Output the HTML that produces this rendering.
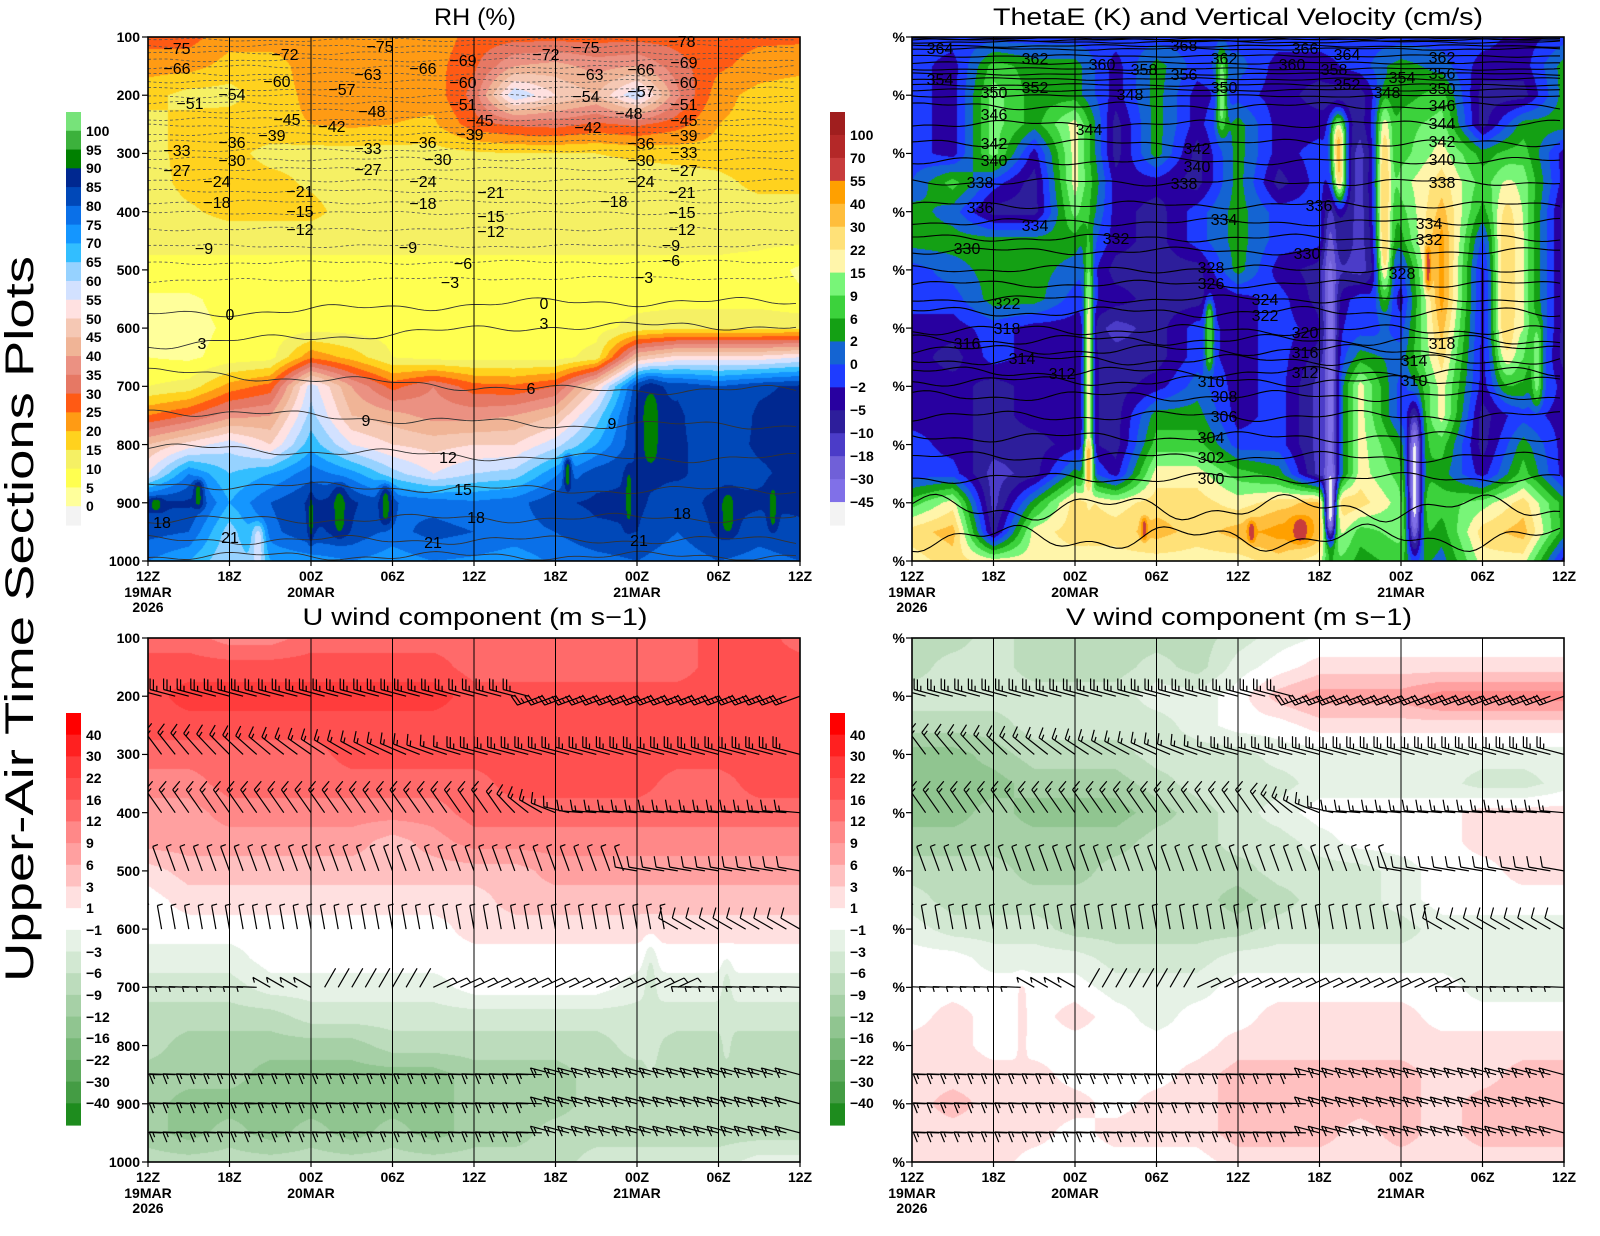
<!DOCTYPE html>
<html><head><meta charset="utf-8">
<style>
html,body{margin:0;padding:0;background:#fff;}
#wrap{position:relative;width:1600px;height:1236px;overflow:hidden;background:#fff;}
canvas{position:absolute;}
#s{position:absolute;left:0;top:0;}
.t{font-family:"Liberation Sans",sans-serif;fill:#000;}
.ax{font-family:"Liberation Sans",sans-serif;font-weight:bold;font-size:14px;fill:#000;}
.cl{font-family:"Liberation Sans",sans-serif;font-size:16px;fill:#000;}
</style></head><body><div id="wrap">
<canvas id="c1" width="652" height="524" style="left:148px;top:37px"></canvas>
<canvas id="c2" width="652" height="524" style="left:912px;top:37px"></canvas>
<canvas id="c3" width="652" height="524" style="left:148px;top:638px"></canvas>
<canvas id="c4" width="652" height="524" style="left:912px;top:638px"></canvas>
<svg id="s" width="1600" height="1236" viewBox="0 0 1600 1236" xmlns="http://www.w3.org/2000/svg">
<defs>
<clipPath id="cpU"><rect x="148" y="638" width="652" height="524"/></clipPath>
<clipPath id="cpV"><rect x="912" y="638" width="652" height="524"/></clipPath>
</defs>
<g id="lines"></g>
<!-- Titles -->
<text class="t" x="475" y="25" font-size="24" text-anchor="middle" textLength="82" lengthAdjust="spacingAndGlyphs">RH (%)</text>
<text class="t" x="1238" y="25" font-size="24" text-anchor="middle" textLength="490" lengthAdjust="spacingAndGlyphs">ThetaE (K) and Vertical Velocity (cm/s)</text>
<text class="t" x="475" y="625" font-size="24" text-anchor="middle" textLength="345" lengthAdjust="spacingAndGlyphs">U wind component (m s−1)</text>
<text class="t" x="1239" y="625" font-size="24" text-anchor="middle" textLength="346" lengthAdjust="spacingAndGlyphs">V wind component (m s−1)</text>
<text class="t" transform="translate(33,619) rotate(-90)" font-size="40" text-anchor="middle" textLength="726" lengthAdjust="spacingAndGlyphs">Upper-Air Time Sections Plots</text>

<!-- Y axis labels -->
<g class="ax" text-anchor="end">
<text x="140" y="42">100</text><text x="140" y="100">200</text><text x="140" y="158">300</text><text x="140" y="217">400</text><text x="140" y="275">500</text><text x="140" y="333">600</text><text x="140" y="391">700</text><text x="140" y="450">800</text><text x="140" y="508">900</text><text x="140" y="566">1000</text>
<text x="140" y="643">100</text><text x="140" y="701">200</text><text x="140" y="759">300</text><text x="140" y="818">400</text><text x="140" y="876">500</text><text x="140" y="934">600</text><text x="140" y="992">700</text><text x="140" y="1051">800</text><text x="140" y="1109">900</text><text x="140" y="1167">1000</text>
<text x="905" y="42">%</text><text x="905" y="100">%</text><text x="905" y="158">%</text><text x="905" y="217">%</text><text x="905" y="275">%</text><text x="905" y="333">%</text><text x="905" y="391">%</text><text x="905" y="450">%</text><text x="905" y="508">%</text><text x="905" y="566">%</text>
<text x="905" y="643">%</text><text x="905" y="701">%</text><text x="905" y="759">%</text><text x="905" y="818">%</text><text x="905" y="876">%</text><text x="905" y="934">%</text><text x="905" y="992">%</text><text x="905" y="1051">%</text><text x="905" y="1109">%</text><text x="905" y="1167">%</text>
</g>

<!-- Time labels -->
<g class="ax" text-anchor="middle">
<text x="148" y="581">12Z</text><text x="229.5" y="581">18Z</text><text x="311" y="581">00Z</text><text x="392.5" y="581">06Z</text><text x="474" y="581">12Z</text><text x="555.5" y="581">18Z</text><text x="637" y="581">00Z</text><text x="718.5" y="581">06Z</text><text x="800" y="581">12Z</text>
<text x="148" y="597">19MAR</text><text x="148" y="612">2026</text><text x="311" y="597">20MAR</text><text x="637" y="597">21MAR</text>
<text x="912" y="581">12Z</text><text x="993.5" y="581">18Z</text><text x="1075" y="581">00Z</text><text x="1156.5" y="581">06Z</text><text x="1238" y="581">12Z</text><text x="1319.5" y="581">18Z</text><text x="1401" y="581">00Z</text><text x="1482.5" y="581">06Z</text><text x="1564" y="581">12Z</text>
<text x="912" y="597">19MAR</text><text x="912" y="612">2026</text><text x="1075" y="597">20MAR</text><text x="1401" y="597">21MAR</text>
<text x="148" y="1182">12Z</text><text x="229.5" y="1182">18Z</text><text x="311" y="1182">00Z</text><text x="392.5" y="1182">06Z</text><text x="474" y="1182">12Z</text><text x="555.5" y="1182">18Z</text><text x="637" y="1182">00Z</text><text x="718.5" y="1182">06Z</text><text x="800" y="1182">12Z</text>
<text x="148" y="1198">19MAR</text><text x="148" y="1213">2026</text><text x="311" y="1198">20MAR</text><text x="637" y="1198">21MAR</text>
<text x="912" y="1182">12Z</text><text x="993.5" y="1182">18Z</text><text x="1075" y="1182">00Z</text><text x="1156.5" y="1182">06Z</text><text x="1238" y="1182">12Z</text><text x="1319.5" y="1182">18Z</text><text x="1401" y="1182">00Z</text><text x="1482.5" y="1182">06Z</text><text x="1564" y="1182">12Z</text>
<text x="912" y="1198">19MAR</text><text x="912" y="1213">2026</text><text x="1075" y="1198">20MAR</text><text x="1401" y="1198">21MAR</text>
</g>

<!-- Colorbar labels -->
<g class="ax">
<text x="86" y="136">100</text><text x="86" y="155">95</text><text x="86" y="173">90</text><text x="86" y="192">85</text><text x="86" y="211">80</text><text x="86" y="230">75</text><text x="86" y="248">70</text><text x="86" y="267">65</text><text x="86" y="286">60</text><text x="86" y="305">55</text><text x="86" y="324">50</text><text x="86" y="342">45</text><text x="86" y="361">40</text><text x="86" y="380">35</text><text x="86" y="399">30</text><text x="86" y="417">25</text><text x="86" y="436">20</text><text x="86" y="455">15</text><text x="86" y="474">10</text><text x="86" y="493">5</text><text x="86" y="511">0</text>
<text x="850" y="140">100</text><text x="850" y="163">70</text><text x="850" y="186">55</text><text x="850" y="209">40</text><text x="850" y="232">30</text><text x="850" y="255">22</text><text x="850" y="278">15</text><text x="850" y="301">9</text><text x="850" y="324">6</text><text x="850" y="346">2</text><text x="850" y="369">0</text><text x="850" y="392">−2</text><text x="850" y="415">−5</text><text x="850" y="438">−10</text><text x="850" y="461">−18</text><text x="850" y="484">−30</text><text x="850" y="507">−45</text>
<text x="86" y="740">40</text><text x="86" y="761">30</text><text x="86" y="783">22</text><text x="86" y="805">16</text><text x="86" y="826">12</text><text x="86" y="848">9</text><text x="86" y="870">6</text><text x="86" y="892">3</text><text x="86" y="913">1</text><text x="86" y="935">−1</text><text x="86" y="957">−3</text><text x="86" y="978">−6</text><text x="86" y="1000">−9</text><text x="86" y="1022">−12</text><text x="86" y="1043">−16</text><text x="86" y="1065">−22</text><text x="86" y="1087">−30</text><text x="86" y="1108">−40</text>
<text x="850" y="740">40</text><text x="850" y="761">30</text><text x="850" y="783">22</text><text x="850" y="805">16</text><text x="850" y="826">12</text><text x="850" y="848">9</text><text x="850" y="870">6</text><text x="850" y="892">3</text><text x="850" y="913">1</text><text x="850" y="935">−1</text><text x="850" y="957">−3</text><text x="850" y="978">−6</text><text x="850" y="1000">−9</text><text x="850" y="1022">−12</text><text x="850" y="1043">−16</text><text x="850" y="1065">−22</text><text x="850" y="1087">−30</text><text x="850" y="1108">−40</text>
</g>

<!-- RH contour labels -->
<g class="cl" text-anchor="middle">
<text x="177" y="54">−75</text><text x="285" y="60">−72</text><text x="380" y="52">−75</text><text x="463" y="66">−69</text><text x="546" y="60">−72</text><text x="586" y="53">−75</text><text x="682" y="47">−78</text><text x="684" y="68">−69</text>
<text x="177" y="74">−66</text><text x="277" y="87">−60</text><text x="368" y="80">−63</text><text x="423" y="74">−66</text><text x="463" y="88">−60</text><text x="590" y="80">−63</text><text x="641" y="75">−66</text><text x="684" y="88">−60</text>
<text x="190" y="109">−51</text><text x="232" y="100">−54</text><text x="342" y="95">−57</text><text x="372" y="117">−48</text><text x="463" y="110">−51</text><text x="586" y="102">−54</text><text x="641" y="97">−57</text><text x="629" y="119">−48</text><text x="684" y="110">−51</text>
<text x="287" y="125">−45</text><text x="332" y="132">−42</text><text x="272" y="141">−39</text><text x="480" y="126">−45</text><text x="470" y="140">−39</text><text x="588" y="133">−42</text><text x="684" y="126">−45</text><text x="684" y="141">−39</text>
<text x="232" y="148">−36</text><text x="177" y="156">−33</text><text x="232" y="166">−30</text><text x="177" y="176">−27</text><text x="368" y="154">−33</text><text x="368" y="175">−27</text><text x="423" y="148">−36</text><text x="438" y="165">−30</text><text x="641" y="149">−36</text><text x="641" y="166">−30</text><text x="684" y="158">−33</text><text x="684" y="176">−27</text>
<text x="217" y="187">−24</text><text x="217" y="208">−18</text><text x="300" y="197">−21</text><text x="300" y="217">−15</text><text x="300" y="235">−12</text><text x="423" y="187">−24</text><text x="423" y="209">−18</text><text x="491" y="198">−21</text><text x="491" y="222">−15</text><text x="491" y="237">−12</text><text x="614" y="207">−18</text><text x="641" y="187">−24</text><text x="682" y="198">−21</text><text x="682" y="218">−15</text><text x="682" y="235">−12</text>
<text x="204" y="254">−9</text><text x="408" y="253">−9</text><text x="463" y="269">−6</text><text x="450" y="288">−3</text><text x="671" y="251">−9</text><text x="671" y="266">−6</text><text x="644" y="283">−3</text>
<text x="230" y="320">0</text><text x="544" y="309">0</text><text x="202" y="349">3</text><text x="544" y="329">3</text><text x="531" y="394">6</text><text x="366" y="426">9</text><text x="612" y="429">9</text><text x="448" y="463">12</text><text x="463" y="495">15</text><text x="162" y="528">18</text><text x="476" y="523">18</text><text x="682" y="519">18</text><text x="230" y="543">21</text><text x="433" y="548">21</text><text x="639" y="546">21</text>
</g>

<!-- ThetaE contour labels -->
<g class="cl" text-anchor="middle">
<text x="940" y="54">364</text><text x="1035" y="64">362</text><text x="940" y="85">354</text><text x="994" y="98">350</text><text x="1035" y="93">352</text><text x="1184" y="51">368</text><text x="1102" y="70">360</text><text x="1144" y="75">358</text><text x="1184" y="80">356</text><text x="1224" y="64">362</text><text x="1224" y="93">350</text><text x="1130" y="100">348</text>
<text x="1305" y="54">366</text><text x="1347" y="60">364</text><text x="1292" y="70">360</text><text x="1334" y="75">358</text><text x="1347" y="90">352</text><text x="1402" y="83">354</text><text x="1387" y="98">348</text>
<text x="1442" y="63">362</text><text x="1442" y="79">356</text><text x="1442" y="94">350</text><text x="1442" y="111">346</text><text x="1442" y="129">344</text><text x="1442" y="147">342</text><text x="1442" y="165">340</text><text x="1442" y="188">338</text><text x="1429" y="229">334</text><text x="1429" y="245">332</text><text x="1402" y="279">328</text><text x="1442" y="349">318</text><text x="1414" y="366">314</text><text x="1414" y="386">310</text>
<text x="994" y="120">346</text><text x="994" y="149">342</text><text x="994" y="166">340</text><text x="980" y="188">338</text><text x="980" y="213">336</text><text x="1035" y="231">334</text><text x="967" y="254">330</text><text x="1089" y="135">344</text><text x="1116" y="244">332</text>
<text x="1197" y="154">342</text><text x="1197" y="172">340</text><text x="1184" y="189">338</text><text x="1224" y="225">334</text><text x="1319" y="211">336</text><text x="1307" y="259">330</text><text x="1211" y="273">328</text><text x="1211" y="289">326</text><text x="1265" y="305">324</text><text x="1265" y="321">322</text><text x="1305" y="338">320</text><text x="1305" y="358">316</text><text x="1305" y="378">312</text>
<text x="1007" y="309">322</text><text x="1007" y="334">318</text><text x="967" y="349">316</text><text x="1022" y="364">314</text><text x="1062" y="379">312</text>
<text x="1211" y="387">310</text><text x="1224" y="402">308</text><text x="1224" y="422">306</text><text x="1211" y="443">304</text><text x="1211" y="463">302</text><text x="1211" y="484">300</text>
</g>
</svg>
</div>
<script>
(function(){
const W=652,H=524;
function hex(h){return [parseInt(h.substr(0,2),16),parseInt(h.substr(2,2),16),parseInt(h.substr(4,2),16)];}
function transpose(cols){const rows=[];for(let r=0;r<cols[0].length;r++){rows.push(cols.map(c=>c[r]));}return rows;}
function lerpGrid(G,t,p){
  let c=t/3,r=(p-100)/50;
  let c0=Math.max(0,Math.min(15,Math.floor(c))),r0=Math.max(0,Math.min(17,Math.floor(r)));
  let fc=c-c0,fr=r-r0;
  let a=G[r0][c0],b=G[r0][c0+1],d=G[r0+1][c0],e=G[r0+1][c0+1];
  return (a*(1-fc)+b*fc)*(1-fr)+(d*(1-fc)+e*fc)*fr;
}
function render(id,G,bumps,colorFn){
  const cv=document.getElementById(id);if(!cv||!cv.getContext)return;
  const ctx=cv.getContext('2d');const img=ctx.createImageData(W,H);const D=img.data;
  for(let y=0;y<H;y++){const p=100+(y+0.5)/H*900;
    for(let x=0;x<W;x++){const t=(x+0.5)/W*48;
      let v=lerpGrid(G,t,p);
      for(let k=0;k<bumps.length;k++){const b=bumps[k];const dt=(t-b[0])/b[2],dp=(p-b[1])/b[3];
        const ex=dt*dt+dp*dp*dp*dp; if(ex<12){const w=Math.exp(-ex);v+=(b[4]-v)*w;}}
      const c=colorFn(v);const i=(y*W+x)*4;D[i]=c[0];D[i+1]=c[1];D[i+2]=c[2];D[i+3]=255;}}
  ctx.putImageData(img,0,0);
}
// RH
const rhCols=['f0f0f0','ffff9b','ffff50','f5f064','ffd21e','ff9b14','ff5a14','e67864','eb9182','f0b496','f5c8b4','ffe1e1','d2e1ff','96d2ff','32beff','1496ff','0a70e8','0048b8','002890','008000','3cb13c','77e37a'].map(hex);
const RH=[
[27,27,22,22,22,22,22,22,27,28,28,28,28,28,27,26,26],
[22,22,18,18,22,22,22,23,29,40,42,38,40,32,26,23,22],
[17,13,13,18,21,22,22,22,32,60,50,45,60,36,22,18,16],
[13,17,18,19,20,21,20,19,28,31,32,29,31,27,20,18,17],
[13,17,17,13,13,13,13,13,14,15,15,15,16,17,18,19,18],
[12,17,18,17,14,12,12,12,12,12,12,12,12,12,13,17,17],
[12,14,17,17,17,12,15,12,12,12,12,12,12,12,12,12,12],
[11,11,11,11,11,11,11,11,11,11,11,11,11,11,11,11,11],
[9,9,9,9,9,9,9,9,9,9,9,9,9,9,9,8,4],
[4,4,7,8,8,8,8,8,9,9,9,8,8,8,8,8,6],
[4,3,6,7,8,8,8,7,8,8,8,8,12,14,14,14,14],
[5,4,7,8,24,18,10,8,8,8,8,12,45,52,52,52,55],
[10,12,22,27,58,40,28,35,27,26,30,50,82,84,80,84,86],
[25,30,38,40,62,45,42,38,38,40,45,62,85,86,80,86,87],
[45,52,58,50,68,55,50,48,50,50,58,70,84,86,82,86,87],
[55,75,65,70,78,72,62,55,60,62,74,83,85,86,82,84,87],
[86,86,70,80,86,86,80,78,76,78,84,86,86,82,87,86,86],
[82,80,62,78,85,84,78,82,80,78,80,84,85,80,86,82,84],
[75,70,60,70,72,75,72,75,74,72,76,78,80,76,80,78,80]];
const rhB=[[3.7,886,0.4,25,92],[0.6,903,0.5,12,92],[14.1,915,0.6,45,92],[17.5,905,0.5,35,92],[12.0,926,0.2,40,92],[30.9,850,0.3,30,92],[35.4,890,0.3,50,92],[37.0,770,0.9,80,92],[42.7,918,0.6,40,92],[46.0,909,0.35,40,92],[8.1,975,0.5,40,57]];
render('c1',RH,rhB,v=>{let i=v<0?0:Math.min(21,Math.floor(v/5)+1);return rhCols[i];});
// ThetaE
const thCols=['f3f3f3','8070e8','7060d8','4b3cc8','2d1e9b','2800a0','1e3cff','1464d2','14a014','3cd23c','78f578','fff5aa','ffe178','ffbe3c','ffa000','c83c3c','b42828','a01e1e'].map(hex);
const TH=transpose([
[6,6,6,6,6,6.5,8,8,6,6,5,5,5,5,6,6,9,12,11],
[6,5,5,5,5,9,7,8,7,6,5,4,5,5,5,6,11,13,12],
[6,9,10,10,10,6,4,8,8,8,6,6,4,4,4,3,3,4,11],
[6,8,8,8,5,4,4,8,8,8,5,5,5,5,4,4,8,11,11],
[6,8,8,11,11,11,10,8,7,6,5,5,5,5,5,8,12,12,11],
[6,5,5,4,4,5,5,5,4,5,3,4,4,4,4,5,11,12,11],
[6,8,8,8,8,5,4,4,4,4,4,4,5,8,9,11,12,13,11],
[6,6,5,5,4,4,6,6,4,4,6,6,7,8,9,11,12,12,11],
[6,7,6,8,8,8,8,8,8,5,5,5,5,5,6,9,11,13,11],
[6,5,5,5,5,4,6,6,5,6,6,6,6,6,6,8,12,14,12],
[6,5,4,5,6,6,6,6,4,4,5,4,3,3,3,3,13,13,11],
[6,6,4,4,3,3,3,3,3,6,6,8,11,11,11,11,12,9,8],
[6,8,8,9,9,10,9,8,6,5,6,7,6,6,8,9,10,10,9],
[6,7,9,10,11,12,13,14,14,14,13,12,11,11,9,8,9,8,7],
[6,5,4,4,8,9,8,6,5,5,5,5,5,4,4,5,10,12,11],
[5,5,4,8,9,10,10,10,10,10,10,9,8,6,8,9,12,13,11],
[6,8,8,8,5,5,4,4,4,4,4,4,5,5,5,5,8,8,5]]);
const thB=[[31.4,308,0.6,75,13],[34.8,385,0.6,175,12.5],[30.8,672,0.5,290,1],[30.8,900,0.35,60,0],[37.0,862,0.55,128,0],[28.6,947,0.8,25,15],[25.0,950,0.3,20,15],[17.1,945,0.25,20,15],[38.0,495,0.25,40,15],[13.0,676,0.35,230,11],[13.0,836,0.3,45,13],[21.9,612,0.35,64,9.5],[46.0,661,0.4,73,10],[22.8,194,0.4,74,10],[43.8,520,1.0,170,12.5]];
render('c2',TH,thB,v=>thCols[Math.max(0,Math.min(17,Math.round(v)))]);
// U, V
const uvCols=['1e8c1e','449c44','5fab5f','78b878','90c590','a6d0a6','bcdcbc','d2e8d2','e6f2e6','ffffff','ffe0e0','ffc0c0','ffa0a0','ff8888','ff6a6a','ff5050','ff3c3c','ff2020','ff0000'].map(hex);
const U=[
[14,14,13,13,14,14,14,14,14,14,14,14,14,14,15,15,14],
[15,15,15,15,15,15,15,15,14,14,14,14,14,14,15,15,15],
[15,16,16,16,16,16,16,16,15,15,15,15,15,15,15,15,15],
[15,15,15,15,15,15,15,15,15,15,15,15,15,15,15,15,15],
[14,14,14,14,14,15,15,15,15,15,15,15,15,15,15,15,15],
[13,13,14,14,14,14,14,14,14,15,15,15,15,14,14,15,15],
[12,12,13,13,13,13,13,13,14,14,14,14,14,14,14,14,14],
[12,12,12,12,12,12,11,12,13,13,13,13,13,13,13,13,13],
[10,11,11,11,11,11,11,11,11,11,12,12,12,12,12,12,12],
[9,10,10,10,10,10,10,10,10,11,11,11,11,11,11,11,11],
[9,9,9,9,9,9,9,9,10,10,10,10,10,10,10,10,10],
[8,8,8,9,9,9,9,9,9,9,9,9,9,9,9,9,9],
[7,7,7,8,8,8,8,8,9,9,9,9,8,8,8,8,8],
[6,6,6,6,7,7,7,7,7,7,7,7,7,7,7,7,7],
[6,5,5,5,5,5,6,6,6,6,6,6,7,6,6,6,6],
[5,5,5,4,4,4,4,4,5,5,5,6,6,6,6,6,6],
[5,4,4,4,4,4,4,4,5,5,5,6,6,6,6,6,6],
[5,4,5,4,5,4,5,4,5,5,6,6,6,6,6,6,6],
[6,6,6,6,6,6,6,6,6,6,6,7,7,7,7,8,8]];
const V=[
[6,6,7,6,6,6,6,6,7,8,8.6,8.6,8.6,8.6,8.6,8.6,8.6],
[6,7,7,6,6,6,7,6,8,9,10,10,10,10,10,10,10],
[7,7,7,7,7,7,8,8,9,11,12,12,12,13,13,13,13],
[6,6,6,7,7,7,7,8,9,9,10,10,10,10,10,10,10],
[4,4,5,6,6,6,7,7,7,8,8,8,8,8,8,8,8],
[4,4,4,5,5,5,6,7,7,7,8,8,8,8,7,7,8],
[4,4,5,4,4,4,5,6,7,8,9,9,9,9,10,10,10],
[5,5,5,5,5,5,6,6,7,7,8,9,9,9,10,10,10],
[6,6,6,5,5,6,6,6,6,7,7,7,8,9,9,10,10],
[7,6,6,6,6,6,6,6,5,6,7,7,8,9,9,9,9],
[8,7,7,7,6,6,6,6,6,7,7,7,7,8,8,8,8],
[9,9,8,8,8,7,7,7,8,8,8,8,8,8,8,8,8],
[9,9,9,9,9,8,8,8,9,9,9,9,9,9,8,8,8],
[9,10,9,9,10,9,8,9,9,10,10,10,10,9,9,9,9],
[10,10,9,9,9,9,9,9,10,10,10,10,10,10,10,10,10],
[10,10,10,10,9,9,9,10,11,11,11,11,11,10,10,11,11],
[10,11,10,10,10,9,10,10,11,11,11,11,11,10,11,11,11],
[10,10,10,10,9,10,10,10,11,11,11,10,11,10,11,11,11],
[10,10,10,9,9,9,9,9,10,10,10,10,10,10,10,10,10]];
const uvf=v=>uvCols[Math.max(0,Math.min(18,Math.round(v)))];
render('c3',U,[[37,740,0.5,110,7],[42.6,745,0.4,85,7]],uvf);
render('c4',V,[[8.1,760,0.4,70,10]],uvf);

// SVG lines
let out='';
const panels=[[148,37],[912,37],[148,638],[912,638]];
function py(y0,p){return y0+(p-100)/900*524;}
// RH isotherms
const rhT=[[-78,40,40],[-75,46,46],[-72,53,53],[-69,60,60],[-66,67,67],[-63,74,74],[-60,81,81],[-57,89,89],[-54,96,96],[-51,103,103],[-48,111,111],[-45,119,119],[-42,126,126],[-39,134,134],[-36,142,142],[-33,150,150],[-30,159,159],[-27,169,169],[-24,180,180],[-21,191,191],[-18,202,202],[-15,213,213],[-12,229,229],[-9,246,246],[-6,263,262],[-3,281,278],[0,315,302],[3,345,326],[6,372,390],[9,410,425],[12,447,458],[15,484,490],[18,520,518],[21,540,540],[24,556,556]];
for(const [T,yl,yr] of rhT){let pts=[];const amp=T<0?1.2:3;
  for(let x=148;x<=800;x+=6){const f=(x-148)/652;let y=yl+(yr-yl)*Math.min(1,f*1.6)+amp*Math.sin(x/31+T*0.9)+amp*0.6*Math.sin(x/11+T*1.7);
    y=Math.max(38,Math.min(560,y));pts.push(x+','+y.toFixed(1));}
  out+='<polyline points="'+pts.join(' ')+'" fill="none" stroke="'+(T<0?'#555':'#333')+'" stroke-width="'+(T<0?0.8:0.9)+'"'+(T<0?' stroke-dasharray="3,2.5"':'')+'/>';}
// ThetaE isentropes
const thK={372:38.5,370:40,368:42,366:46,364:49,362:56,360:63,358:69,356:74,354:79,352:85,350:90,348:96,346:106,344:124,342:143,340:161,338:182,336:205,334:222,332:238,330:251,328:269,326:284,324:299,322:312,320:330,318:340,316:350,314:360,312:372,310:381,308:396,306:416,304:437,302:457,300:478,298:508,296:538};
for(const k in thK){const K=+k;const yb=thK[k];let pts=[];const amp=yb<100?0.8:(yb<300?2.5:3.5)*(K<=298?2.5:1);
  for(let x=912;x<=1564;x+=6){let y=yb+amp*Math.sin(x/29+K*1.3)+amp*0.6*Math.sin(x/11+K*0.7);y=Math.max(38,Math.min(560,y));pts.push(x+','+y.toFixed(1));}
  out+='<polyline points="'+pts.join(' ')+'" fill="none" stroke="#000" stroke-width="1.1"/>';}
// Barbs
function rowSpec(p,t){
  if(p===200)return t<29?[165,2.5,90,26]:[200,2.5,125,26];
  if(p===300){const a=125+40*Math.min(1,t/24);return [a,t<24?1.5:2.5,a-75,28];}
  if(p===400){if(t<26)return[125,1.5,50,28];if(t<32){const a=125+50*(t-26)/6;return[a,1.5,a-75,26];}return[175,1.5,100,24];}
  if(p===500)return t<36?[110,0.5,20,26]:[170,1,100,22];
  if(p===600)return t<39?[100,0.5,15,24]:[150,1,75,22];
  if(p===700){if(t<9)return[178,0.5,285,20];if(t<13)return[150,0.5,285,20];if(t<21)return[60,0,0,22];if(t<40)return[25,0.5,-50,22];return[178,0.5,285,20];}
  return t<30?[178,1.5,292,26]:[165,1.5,295,26];
}
function barbs(x0,y0){let d='';const lev=[200,300,400,500,600,700,850,900,950];
  for(const p of lev){const y=py(y0,p);
    for(let i=0;i<=48;i++){const t=i;const x=x0+i*652/48;const s=rowSpec(p,t);
      const a=s[0]*Math.PI/180,L=s[3];const ux=Math.cos(a),uy=-Math.sin(a);
      const ex=x+L*ux,ey=y+L*uy;d+='M'+x.toFixed(1)+' '+y.toFixed(1)+'L'+ex.toFixed(1)+' '+ey.toFixed(1);
      const f=s[2]*Math.PI/180;const fx=Math.cos(f),fy=-Math.sin(f);let n=s[1];let k=0;
      while(n>0.01){const F=n>=1?11:5.5;const bx=ex-k*3.5*ux,by=ey-k*3.5*uy;
        d+='M'+bx.toFixed(1)+' '+by.toFixed(1)+'L'+(bx+F*fx).toFixed(1)+' '+(by+F*fy).toFixed(1);n-=1;k++;}
    }}
  return d;}
out+='<path clip-path="url(#cpU)" d="'+barbs(148,638)+'" fill="none" stroke="#000" stroke-width="1.2"/>';
out+='<path clip-path="url(#cpV)" d="'+barbs(912,638)+'" fill="none" stroke="#000" stroke-width="1.2"/>';
// grid lines, frames, ticks
for(const [x0,y0] of panels){
  for(let i=1;i<8;i++){const x=x0+i*81.5;out+='<line x1="'+x+'" y1="'+y0+'" x2="'+x+'" y2="'+(y0+524)+'" stroke="#000" stroke-width="1"/>';}
  for(let i=0;i<=8;i++){const x=x0+i*81.5;out+='<line x1="'+x+'" y1="'+(y0+524)+'" x2="'+x+'" y2="'+(y0+529)+'" stroke="#000" stroke-width="1.2"/>';}
  for(let k=0;k<10;k++){const y=y0+k*524/9;out+='<line x1="'+(x0-6)+'" y1="'+y+'" x2="'+x0+'" y2="'+y+'" stroke="#000" stroke-width="1.2"/>';}
  out+='<rect x="'+x0+'" y="'+y0+'" width="652" height="524" fill="none" stroke="#000" stroke-width="1.6"/>';
}
// colorbars
function cbar(x,y0,y1,cols){const n=cols.length,h=(y1-y0)/n;let s='';
  for(let i=0;i<n;i++){s+='<rect x="'+x+'" y="'+(y0+i*h).toFixed(2)+'" width="15" height="'+(h+0.6).toFixed(2)+'" fill="#'+cols[i]+'"/>';}return s;}
const rhBar=['77e37a','3cb13c','008000','002890','0048b8','0a70e8','1496ff','32beff','96d2ff','d2e1ff','ffe1e1','f5c8b4','f0b496','eb9182','e67864','ff5a14','ff9b14','ffd21e','f5f064','ffff50','ffff9b','f3f3f3'];
const thBar=['a01e1e','b42828','c83c3c','ffa000','ffbe3c','ffe178','fff5aa','78f578','3cd23c','14a014','1464d2','1e3cff','2800a0','2d1e9b','4b3cc8','7060d8','8070e8','f3f3f3'];
const uvBar=['ff0000','ff2020','ff3c3c','ff5050','ff6a6a','ff8888','ffa0a0','ffc0c0','ffe0e0','ffffff','e6f2e6','d2e8d2','bcdcbc','a6d0a6','90c590','78b878','5fab5f','449c44','1e8c1e'];
out+=cbar(66,112,525,rhBar)+cbar(830,112,525,thBar)+cbar(66,713,1125,uvBar)+cbar(830,713,1125,uvBar);
document.getElementById('lines').innerHTML=out;
})();
</script>
</body></html>
